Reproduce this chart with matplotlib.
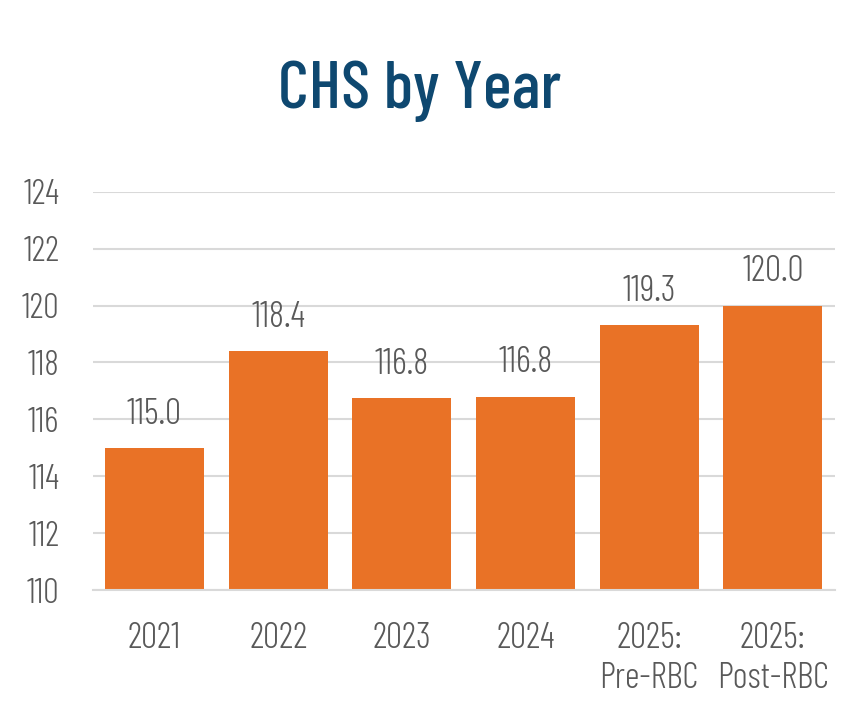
import matplotlib
matplotlib.use("Agg")
import matplotlib.pyplot as plt

# data
categories = ["2021", "2022", "2023", "2024", "2025:\nPre-RBC", "2025:\nPost-RBC"]
chs_values = [115.0, 118.4, 116.75, 116.8, 119.3, 120.0]
y_ticks = [110, 112, 114, 116, 118, 120, 122, 124]

FONT = "Barlow Condensed"
bar_color = "#E97226"
text_gray = "#595959"
grid_gray = "#D9D9D9"
title_blue = "#0E4870"

fig = plt.figure(figsize=(8.5, 7.18), dpi=100)
ax = fig.add_axes([0.109, 0.178, 0.873, 0.555])

x = range(len(categories))
bars = ax.bar(x, chs_values, width=0.8, color=bar_color, zorder=3)

# value labels above bars
for b, v in zip(bars, chs_values):
    ax.annotate("%.1f" % v, (b.get_x() + b.get_width() / 2, v),
                xytext=(0, 12.5), textcoords="offset points",
                ha="center", va="bottom", fontsize=26, color=text_gray,
                family=FONT, weight=300)

ax.set_ylim(110, 124)
ax.set_xlim(-0.5, len(categories) - 0.5)
ax.set_yticks(y_ticks)
ax.set_yticklabels([str(t) for t in y_ticks], family=FONT, weight=300,
                   fontsize=25, color=text_gray)
ax.set_xticks(list(x))
ax.set_xticklabels(categories, family=FONT, weight=300, fontsize=26,
                   color=text_gray, linespacing=1.25)
ax.tick_params(axis="y", length=0, pad=24)
ax.tick_params(axis="x", length=0, pad=23)

ax.grid(axis="y", color=grid_gray, linewidth=1.5, zorder=0)
for s in ["top", "right", "left"]:
    ax.spines[s].set_visible(False)
ax.spines["bottom"].set_color(grid_gray)
ax.spines["bottom"].set_linewidth(1.5)
ax.spines["bottom"].set_zorder(4)

fig.text(0.494, 0.85, "CHS by Year", ha="center", va="baseline",
         fontsize=49, color=title_blue, family=FONT, weight=500)

fig.savefig("out.png")
